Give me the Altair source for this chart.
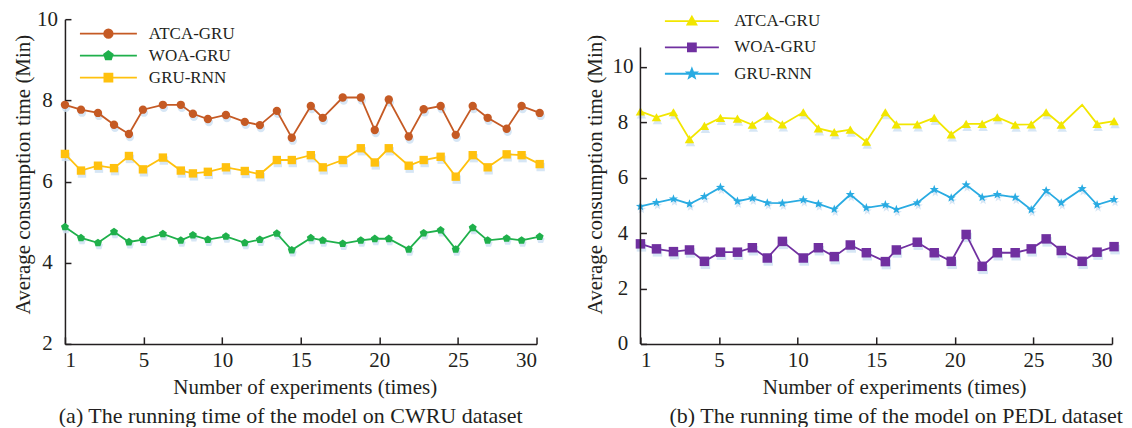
import math
import altair as alt
import pandas as pd

SERIES = ["ATCA-GRU", "WOA-GRU", "GRU-RNN"]

# ---- (a) CWRU dataset ----
cwru_x = [0, 1.02, 2.10, 3.12, 4.07, 4.96, 6.23, 7.37, 8.14, 9.09, 10.24, 11.44, 12.40, 13.48, 14.43,
          15.64, 16.40, 17.67, 18.82, 19.71, 20.60, 21.87, 22.82, 23.90, 24.86, 25.94, 26.89, 28.10, 29.05, 30.20]
cwru_atca = [7.89, 7.77, 7.69, 7.40, 7.17, 7.77, 7.89, 7.89, 7.67, 7.54, 7.64, 7.47, 7.39, 7.74, 7.08,
             7.86, 7.57, 8.07, 8.07, 7.27, 8.02, 7.11, 7.78, 7.86, 7.15, 7.86, 7.57, 7.30, 7.86, 7.69]
cwru_woa = [4.88, 4.61, 4.49, 4.76, 4.51, 4.57, 4.71, 4.55, 4.68, 4.57, 4.65, 4.49, 4.57, 4.72, 4.31,
            4.61, 4.55, 4.47, 4.55, 4.59, 4.59, 4.33, 4.73, 4.80, 4.33, 4.86, 4.55, 4.60, 4.55, 4.64]
cwru_gru = [6.68, 6.27, 6.39, 6.33, 6.63, 6.30, 6.59, 6.27, 6.20, 6.24, 6.35, 6.26, 6.18, 6.53, 6.53,
            6.65, 6.35, 6.53, 6.82, 6.47, 6.82, 6.39, 6.53, 6.61, 6.12, 6.65, 6.35, 6.67, 6.65, 6.43]

# ---- (b) PEDL dataset ----
pedl_x = [0, 1.02, 2.10, 3.12, 4.07, 5.09, 6.17, 7.12, 8.07, 9.03, 10.36, 11.32, 12.33, 13.35, 14.37,
          15.58, 16.28, 17.61, 18.69, 19.77, 20.72, 21.74, 22.70, 23.84, 24.86, 25.81, 26.77, 28.10, 29.05, 30.13]
pedl_atca = [8.39, 8.18, 8.36, 7.39, 7.87, 8.16, 8.13, 7.91, 8.24, 7.92, 8.36, 7.78, 7.64, 7.73, 7.30,
             8.36, 7.92, 7.92, 8.16, 7.56, 7.94, 7.94, 8.18, 7.91, 7.92, 8.36, 7.91, 8.63, 7.94, 8.04]
pedl_woa = [3.61, 3.43, 3.33, 3.39, 2.98, 3.31, 3.31, 3.47, 3.10, 3.70, 3.10, 3.47, 3.15, 3.57, 3.29,
            2.97, 3.39, 3.67, 3.29, 2.98, 3.95, 2.80, 3.29, 3.29, 3.43, 3.79, 3.37, 2.98, 3.31, 3.51]
pedl_gru = [4.96, 5.10, 5.23, 5.05, 5.32, 5.65, 5.15, 5.26, 5.09, 5.08, 5.20, 5.05, 4.86, 5.39, 4.91,
            5.02, 4.85, 5.09, 5.57, 5.27, 5.74, 5.29, 5.39, 5.29, 4.84, 5.53, 5.09, 5.60, 5.02, 5.21]
pedl_atca_no_marker = [27]  # the peak point drawn without a marker

x_ticks = [0, 5, 10, 15, 20, 25, 30]

FONT = "Liberation Serif"
INK = "#231f20"
SHADOW = "#cfe2f3"
W, H = 472, 325
FS = 21
TXT = dict(labelFont=FONT, labelFontSize=FS, labelColor=INK,
           titleFont=FONT, titleFontSize=FS, titleFontWeight="normal", titleColor=INK)


def poly(pts):
    return "M" + "L".join(f"{x:.3f},{y:.3f}" for x, y in pts) + "Z"


def pentagon(r=1.0):
    return poly([(r * math.cos(math.radians(-90 + 72 * k)), r * math.sin(math.radians(-90 + 72 * k))) for k in range(5)])


def star(r=1.0, ri=0.42):
    pts = []
    for k in range(10):
        rr = r if k % 2 == 0 else ri
        a = math.radians(-90 + 36 * k)
        pts.append((rr * math.cos(a), rr * math.sin(a)))
    return poly(pts)


def circle(r=1.0):
    return f"M{-r},0A{r},{r} 0 1,0 {r},0A{r},{r} 0 1,0 {-r},0Z"


def square(r=0.9):
    return f"M{-r},{-r}H{r}V{r}H{-r}Z"


def triangle(r=1.0):
    return f"M0,{-r}L{r},{0.75 * r}L{-r},{0.75 * r}Z"


def make_df(xs, series_vals, no_marker=None):
    rows = []
    for s, vals in zip(SERIES, series_vals):
        for i, (x, v) in enumerate(zip(xs, vals)):
            show = not (no_marker and s in no_marker and i in no_marker[s])
            rows.append({"exp": x, "value": v, "series": s, "idx": i, "marker": show})
    return pd.DataFrame(rows)


def ternary(values):
    return (f"datum.value === '{SERIES[0]}' ? '{values[0]}' : "
            f"(datum.value === '{SERIES[1]}' ? '{values[1]}' : '{values[2]}')")


def legend_for(colors, marker_paths, half_len, lx, ly, row_pad, label_off):
    sym_paths = [f"M{-half_len},0H{half_len}" + p for p in marker_paths]
    return alt.Legend(
        title=None, orient="none", legendX=lx, legendY=ly,
        symbolSize=100, labelOffset=label_off, rowPadding=row_pad, padding=0,
        labelFont=FONT, labelFontSize=17, labelColor=INK, labelBaseline="middle",
        symbolType={"expr": ternary(sym_paths)},
        symbolStrokeColor={"expr": ternary(colors)},
        symbolFillColor={"expr": ternary(colors)},
        symbolStrokeWidth=1.8, symbolOpacity=1,
    )


def panel(df, colors, shapes, legend_shapes, half_len, lx, ly, row_pad, label_off, ydom, yticks,
          size, caption, title_dx, xtitle_x, ytitle_x, axis_top=None):
    xs = alt.Scale(domain=[0, 30], nice=False, zero=False)
    ys = alt.Scale(domain=ydom, nice=False, zero=False)
    cscale = alt.Scale(domain=SERIES, range=colors)
    leg = legend_for(colors, legend_shapes, half_len, lx, ly, row_pad, label_off)
    color = alt.Color("series:N", scale=cscale, legend=leg)

    base = alt.Chart(df)
    layers = []
    # marker shadows
    for s, shp in zip(SERIES, shapes):
        layers.append(
            base.transform_filter(f"datum.marker && datum.series === '{s}'").mark_point(
                filled=True, shape=shp, color=SHADOW, opacity=0.85, size=size, xOffset=1, yOffset=3, clip=False
            ).encode(
                x=alt.X("exp:Q", scale=xs, axis=None),
                y=alt.Y("value:Q", scale=ys, axis=None),
            )
        )
    # lines with the labelled axes
    layers.append(base.mark_line(strokeWidth=1.8, clip=False).encode(
        x=alt.X("exp:Q", scale=xs, axis=alt.Axis(
            orient="bottom", values=x_ticks, ticks=False, labelPadding=6,
            labelExpr="datum.value == 0 ? '1' : datum.label",
            title="Number of experiments (times)", titlePadding=6, titleX=xtitle_x, **TXT)),
        y=alt.Y("value:Q", scale=ys, axis=alt.Axis(
            orient="left", values=yticks, ticks=False, labelAlign="center", labelPadding=18,
            domain=axis_top is None,
            title="Average consumption time (Min)", titleX=ytitle_x, titleY=155,
            titleBaseline="alphabetic", **TXT)),
        color=color,
        order="idx:Q",
    ))
    # markers, first layer carries the inward tick axes
    for k, (s, shp) in enumerate(zip(SERIES, shapes)):
        if k == 0:
            xax = alt.Axis(orient="top", offset=-H, values=x_ticks, labels=False, domain=False,
                           title=None, tickSize=7)
            yax = alt.Axis(orient="right", offset=-W, values=yticks, labels=False, domain=False,
                           title=None, tickSize=6)
        else:
            xax = None
            yax = None
        layers.append(
            base.transform_filter(f"datum.marker && datum.series === '{s}'").mark_point(
                filled=True, shape=shp, opacity=1, size=size, clip=False
            ).encode(
                x=alt.X("exp:Q", scale=xs, axis=xax),
                y=alt.Y("value:Q", scale=ys, axis=yax),
                color=color,
            )
        )
    if axis_top is not None:
        rule_df = pd.DataFrame({"x0": [0], "y0": [ydom[0]], "y1": [axis_top]})
        layers.append(alt.Chart(rule_df).mark_rule(color=INK, strokeWidth=1.5).encode(
            x=alt.X("x0:Q", scale=xs, axis=None),
            y=alt.Y("y0:Q", scale=ys, axis=None),
            y2="y1:Q",
        ))
    return alt.layer(*layers).resolve_axis(x="independent", y="independent").properties(
        width=W, height=H,
        title=alt.TitleParams(caption, orient="bottom", font=FONT, fontSize=22, fontWeight="normal",
                              color=INK, offset=8, dx=title_dx),
    )


cwru_df = make_df(cwru_x, [cwru_atca, cwru_woa, cwru_gru])
pedl_df = make_df(pedl_x, [pedl_atca, pedl_woa, pedl_gru], no_marker={"ATCA-GRU": pedl_atca_no_marker})

left = panel(
    cwru_df,
    colors=["#c55a24", "#1fb04b", "#ffc10e"],
    shapes=["circle", pentagon(), "square"],
    legend_shapes=[circle(0.85), pentagon(0.9), square(0.8)],
    half_len=5.7, lx=35, ly=6, row_pad=4, label_off=32,
    ydom=[2, 10], yticks=[2, 4, 6, 8, 10], size=70,
    caption="(a) The running time of the model on CWRU dataset", title_dx=-10, xtitle_x=240, ytitle_x=-35,
)
right = panel(
    pedl_df,
    colors=["#f2e600", "#7030a0", "#29abe2"],
    shapes=["triangle-up", "square", star()],
    legend_shapes=[triangle(0.9), square(0.8), star(1.0)],
    half_len=5.4, lx=43, ly=-6.5, row_pad=8.3, label_off=34,
    ydom=[0, 11.72], yticks=[0, 2, 4, 6, 8, 10], size=90,
    caption="(b) The running time of the model on PEDL dataset", title_dx=20, xtitle_x=254, ytitle_x=-39,
    axis_top=10.7,
)

chart = alt.hconcat(left, right, spacing=39).resolve_scale(
    color="independent", x="independent", y="independent"
).resolve_legend(color="independent").properties(
    padding={"left": 5, "top": 0, "right": 0, "bottom": 0}
).configure_axis(
    grid=False, domainColor=INK, domainWidth=1.5, tickColor=INK, tickWidth=1.5,
    labelFont=FONT, labelFontSize=FS, labelColor=INK,
    titleFont=FONT, titleFontSize=FS, titleFontWeight="normal", titleColor=INK,
).configure_view(stroke=None)

chart.save("out.html", embed_options={"renderer": "svg", "actions": False})
